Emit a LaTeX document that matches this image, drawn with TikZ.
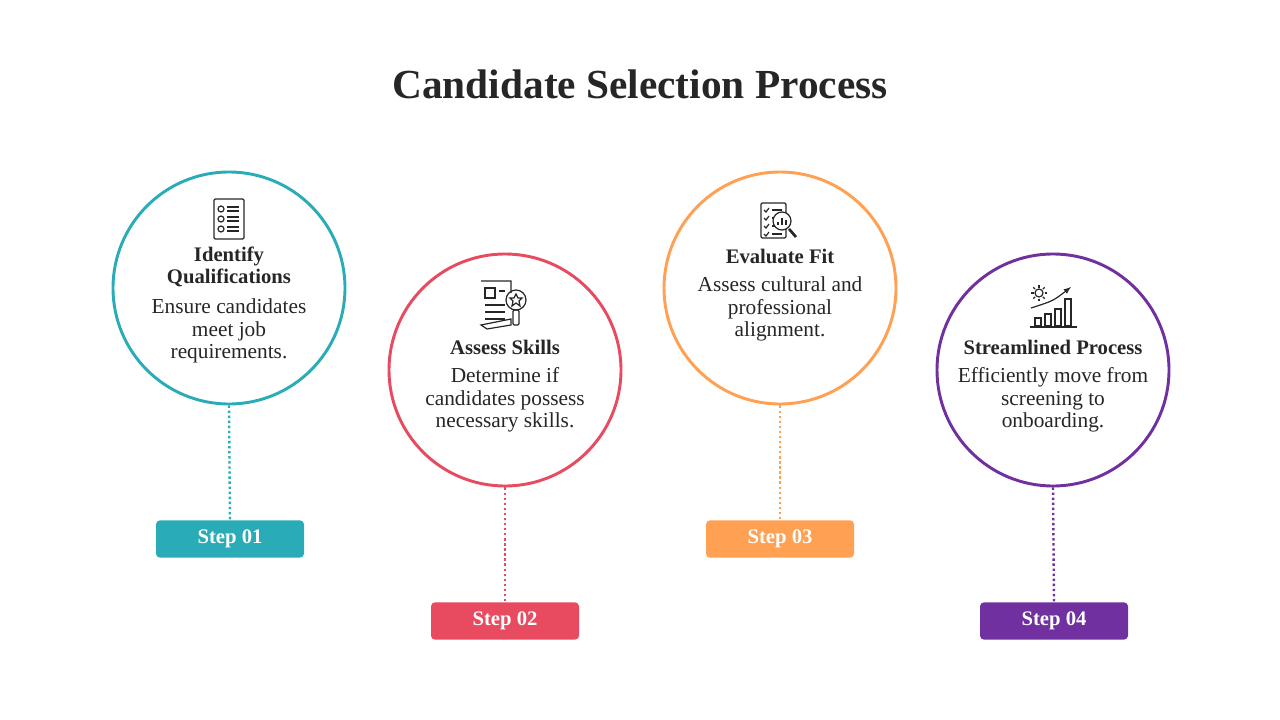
\documentclass[tikz,border=0pt]{standalone}
\usepackage{fontspec}
\setmainfont{Liberation Serif}
\usetikzlibrary{positioning}
\definecolor{tealc}{HTML}{2AACB8}
\definecolor{redc}{HTML}{E84A5F}
\definecolor{orangec}{HTML}{FFA052}
\definecolor{purplec}{HTML}{7030A0}
\definecolor{inkc}{HTML}{262626}
\begin{document}
\begin{tikzpicture}[x=0.75pt,y=-0.75pt,
  ring/.style={circle, draw=#1, line width=2.2pt, minimum size=174pt, inner sep=0pt},
  stepbox/.style={rectangle, rounded corners=3pt, fill=#1, text=white, minimum width=111pt, minimum height=28pt, font=\fontsize{15.5}{17}\selectfont\bfseries},
  head/.style={font=\fontsize{15.5}{16.5}\selectfont\bfseries, text=inkc, align=center},
  body/.style={font=\fontsize{16}{17}\selectfont, text=inkc, align=center},
  link/.style={draw=#1, line width=1.8pt, dotted},
  icon/.style={line width=0.9pt, inkc}]
\useasboundingbox (0,0) rectangle (1280,720);
% Title
\node[font=\fontsize{31}{34}\selectfont\bfseries, text=inkc] (title) at (640,84) {Candidate Selection Process};
% Circles
\node[ring=tealc] (c1) at (229,288) {};
\node[ring=redc] (c2) at (505,370) {};
\node[ring=orangec] (c3) at (780,288) {};
\node[ring=purplec] (c4) at (1053,370) {};
% Step boxes
\node[stepbox=tealc] (s1) at (230,539) {Step 01};
\node[stepbox=redc] (s2) at (505,621) {Step 02};
\node[stepbox=orangec] (s3) at (780,539) {Step 03};
\node[stepbox=purplec] (s4) at (1054,621) {Step 04};
% Connectors
\draw[link=tealc] (c1.south) -- (s1.north);
\draw[link=redc] (c2.south) -- (s2.north);
\draw[link=orangec] (c3.south) -- (s3.north);
\draw[link=purplec] (c4.south) -- (s4.north);
% Texts
\node[head] (h1) at (229,267) {Identify\\Qualifications};
\node[body] (b1) at (229,331) {Ensure candidates\\meet job\\requirements.};
\node[head] (h2) at (505,347) {Assess Skills};
\node[body] (b2) at (505,400) {Determine if\\candidates possess\\necessary skills.};
\node[head] (h3) at (780,256) {Evaluate Fit};
\node[body] (b3) at (780,309) {Assess cultural and\\professional\\alignment.};
\node[head] (h4) at (1053,347) {Streamlined Process};
\node[body] (b4) at (1053,400) {Efficiently move from\\screening to\\onboarding.};
% Icon 1: checklist
\begin{scope}[shift={(229,219)}, icon]
  \draw[rounded corners=1pt] (-15,-20) rectangle (15,20);
  \foreach \yy in {-10,0,10} {
    \draw (-8,\yy) circle (3);
    \draw (-2,\yy-2) -- (10,\yy-2) (-2,\yy+2) -- (10,\yy+2);
  }
\end{scope}
% Icon 2: resume with star lens
\begin{scope}[shift={(503,305)}, icon]
  \draw (-22,-24) -- (8,-24) -- (8,-12) (8,14) -- (8,20) -- (-16,24) -- (-22,20) -- cycle;
  \draw (-18,-17) rectangle (-8,-7);
  \draw (-18,0) -- (2,0) (-18,7) -- (2,7) (-18,14) -- (2,14) (-4,-14) -- (2,-14);
  \draw (13,-5) circle (10);
  \draw (13,-11) -- (15,-7) -- (19,-7) -- (16,-4) -- (17,1) -- (13,-2) -- (9,1) -- (10,-4) -- (7,-7) -- (11,-7) -- cycle;
  \draw[rounded corners=1pt] (10,5) rectangle (16,20);
\end{scope}
% Icon 3: report with magnifier
\begin{scope}[shift={(778,222)}, icon]
  \draw[rounded corners=1pt] (-17,-19) rectangle (8,16);
  \foreach \yy in {-12,-4,4,12} {
    \draw (-14,\yy) -- (-12,\yy+2) -- (-9,\yy-2);
    \draw (-6,\yy) -- (4,\yy);
  }
  \draw[fill=white] (4,-1) circle (9);
  \draw (0,3) -- (0,0) (4,3) -- (4,-4) (8,3) -- (8,-2);
  \draw[line width=2pt] (11,7) -- (18,15);
\end{scope}
% Icon 4: gear and growing bars
\begin{scope}[shift={(1053,306)}, icon]
  \draw (-14,-13) circle (4);
  \foreach \a in {0,45,...,315} \draw (-14,-13) ++(\a:5.5) -- ++(\a:2.5);
  \draw (-23,21) -- (24,21);
  \foreach \xx/\hh in {-18/8,-8/12,2/17,12/27} \draw (\xx,20) rectangle (\xx+6,20-\hh);
  \draw[-latex] (-22,2) .. controls (0,-5) .. (18,-19);
\end{scope}
\end{tikzpicture}
\end{document}
